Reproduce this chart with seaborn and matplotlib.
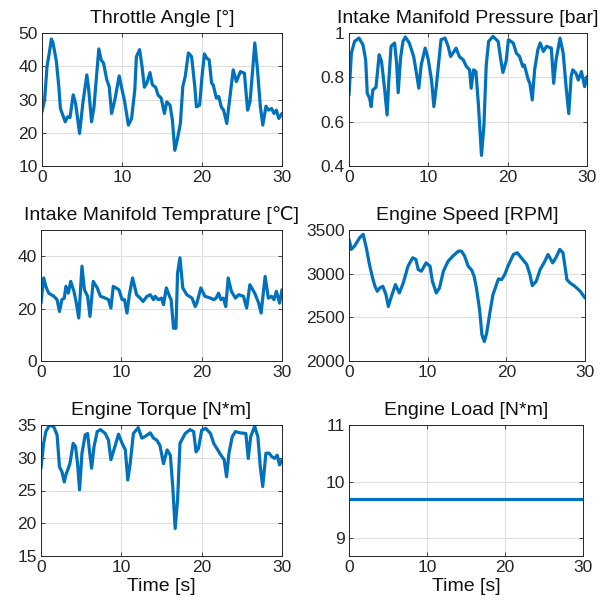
import matplotlib
matplotlib.use("Agg")
import matplotlib.pyplot as plt
import seaborn as sns

# ---- data ----
throttle_t = [0, 0.33, 0.63, 0.88, 1.17, 1.38, 1.8, 2.1, 2.3, 2.6, 2.9, 3.2, 3.5, 3.9, 4.2, 4.7,
              5.1, 5.6, 5.8, 6.2, 6.5, 7.1, 7.4, 7.7, 8.1, 8.4, 8.7, 9.1, 9.65, 10.1, 10.3, 10.8,
              11.2, 11.6, 11.8, 12.2, 12.5, 12.8, 13.1, 13.5, 13.8, 14.2, 14.5, 14.9, 15.3, 15.6,
              16.0, 16.3, 16.6, 16.9, 17.3, 17.6, 17.9, 18.3, 18.7, 19.1, 19.3, 19.7, 20.0, 20.3,
              20.6, 20.9, 21.2, 21.4, 21.8, 22.1, 22.4, 22.7, 23.1, 23.5, 23.9, 24.3, 24.8, 25.3,
              25.7, 26.0, 26.3, 26.6, 26.9, 27.3, 27.6, 28.0, 28.3, 28.7, 29.0, 29.3, 29.6, 30.0]
throttle = [26.3, 30, 40, 43.5, 48.2, 47, 41.4, 33.9, 27.3, 25.3, 23.3, 24.8, 24.6, 31.4, 28.8, 19.8,
            28.8, 37.4, 33.9, 23.3, 27.8, 45.2, 41.9, 40.9, 35.9, 33.9, 25.8, 29.8, 37.1, 31.9, 29.8, 22.3,
            24.3, 32.9, 42.9, 45, 40, 33.7, 34.9, 38.1, 34.4, 33.7, 31.4, 30.4, 25.8, 29.3,
            28.3, 23.8, 14.7, 17.8, 22.8, 33.9, 36.9, 44, 42.9, 33.9, 27.8, 28.3, 36.9, 43.7,
            42.4, 41.9, 34.9, 34.4, 30.4, 30.9, 27.8, 26.8, 22.8, 30.9, 38.9, 35.4, 38.4, 37.9,
            26.8, 29.3, 37.9, 47, 40, 27.8, 22.3, 28, 26.8, 27.3, 25.8, 26.8, 24.3, 25.8]

pressure_t = [0, 0.3, 0.7, 1.26, 1.76, 2.1, 2.3, 2.6, 2.8, 3.0, 3.4, 3.8, 4.1, 4.5, 4.8, 5.0, 5.3,
              5.75, 6.0, 6.2, 6.5, 6.8, 7.1, 7.6, 8.15, 8.5, 8.8, 9.1, 9.6, 10.0, 10.4, 10.7, 11.0,
              11.6, 12.1, 12.5, 12.8, 13.1, 13.5, 13.9, 14.4, 14.8, 15.2, 15.4, 15.7, 16.0, 16.3,
              16.7, 17.0, 17.3, 17.6, 18.15, 18.8, 19.1, 19.4, 19.8, 20.1, 20.7, 21.1, 21.5, 21.9,
              22.1, 22.6, 22.8, 23.1, 23.4, 23.8, 24.1, 24.5, 24.9, 25.5, 25.8, 26.1, 26.6, 27.0,
              27.4, 27.7, 28.0, 28.2, 28.6, 28.9, 29.3, 29.7, 30.0]
pressure = [0.72, 0.909, 0.962, 0.977, 0.947, 0.879, 0.728, 0.705, 0.668, 0.743, 0.755, 0.902, 0.872,
            0.743, 0.63, 0.773, 0.94, 0.955, 0.864, 0.731, 0.887, 0.962, 0.982, 0.955, 0.894, 0.819,
            0.751, 0.856, 0.932, 0.879, 0.788, 0.668, 0.758, 0.97, 0.977, 0.94, 0.894, 0.909, 0.932,
            0.894, 0.879, 0.849, 0.834, 0.751, 0.834, 0.826, 0.683, 0.448, 0.577, 0.856, 0.962, 0.985,
            0.962, 0.887, 0.822, 0.872, 0.97, 0.955, 0.909, 0.894, 0.849, 0.856, 0.788, 0.773, 0.698,
            0.834, 0.924, 0.955, 0.917, 0.94, 0.932, 0.773, 0.879, 0.977, 0.909, 0.743, 0.637, 0.803,
            0.834, 0.819, 0.788, 0.826, 0.758, 0.803]

temp_t = [0, 0.33, 0.6, 0.95, 1.6, 2.0, 2.3, 2.6, 2.9, 3.1, 3.4, 3.7, 4.1, 4.4, 4.7, 5.1, 5.4, 5.8,
          6.1, 6.5, 7.0, 7.4, 8.0, 8.4, 8.7, 9.0, 9.7, 10.1, 10.4, 10.7, 11.0, 11.4, 11.9, 12.35,
          12.7, 13.2, 13.6, 14.0, 14.2, 14.6, 15.0, 15.25, 15.6, 16.0, 16.2, 16.5, 16.8, 17.0, 17.3,
          17.65, 18.15, 18.8, 19.2, 19.4, 19.9, 20.4, 21.1, 21.5, 21.8, 22.1, 22.4, 22.7, 23.0, 23.3,
          23.7, 24.2, 24.6, 25.2, 25.6, 26.0, 26.6, 27.1, 27.4, 27.9, 28.3, 28.7, 29.0, 29.3, 29.7,
          30.0]
temp = [22.1, 31.7, 28.5, 25.9, 24.7, 23.4, 18.9, 23.4, 24.0, 28.5, 25.9, 30.4, 26.6, 22.1, 16.4,
        36.2, 27.2, 24.7, 17.0, 30.4, 27.9, 24.7, 24.0, 23.4, 20.2, 28.5, 27.2, 23.4, 23.4, 18.3,
        25.3, 31.7, 25.3, 24.0, 22.7, 24.7, 25.3, 23.4, 24.7, 23.4, 24.0, 21.5, 27.9, 24.7, 23.4,
        12.5, 12.5, 33.6, 39.4, 27.9, 25.3, 24.0, 20.8, 22.1, 27.9, 24.7, 24.0, 23.4, 24.0, 25.9,
        23.4, 24.0, 20.8, 31.7, 26.6, 24.0, 25.3, 24.7, 20.2, 29.1, 25.9, 22.1, 18.3, 32.3, 24.0,
        24.7, 23.4, 26.6, 22.1, 27.2]

speed_t = [0, 0.3, 0.7, 1.36, 1.8, 2.2, 2.6, 3.0, 3.3, 3.6, 3.9, 4.3, 4.7, 5.0, 5.4, 5.9, 6.4, 6.9,
           7.5, 8.1, 8.5, 8.8, 9.2, 9.8, 10.3, 10.6, 11.1, 11.5, 12.0, 12.6, 13.2, 13.9, 14.3, 14.7,
           15.15, 15.6, 15.9, 16.2, 16.6, 16.9, 17.2, 17.5, 17.9, 18.3, 19.0, 19.4, 19.8, 20.2,
           20.9, 21.4, 21.9, 22.6, 23.0, 23.3, 23.8, 24.3, 24.9, 25.3, 25.9, 26.3, 26.8, 27.2, 27.7,
           28.1, 28.7, 29.4, 30.0]
speed = [3393, 3278, 3316, 3412, 3450, 3297, 3105, 2951, 2856, 2798, 2836, 2856, 2760, 2625, 2741,
         2875, 2779, 2894, 3086, 3182, 3163, 3047, 3028, 3124, 3086, 2913, 2779, 2836, 3028, 3143,
         3201, 3258, 3258, 3201, 3086, 3040, 2971, 2836, 2587, 2300, 2223, 2319, 2549, 2760, 2940,
         2932, 2990, 3086, 3220, 3239, 3182, 3105, 2990, 2863, 2913, 3047, 3143, 3220, 3124, 3182,
         3278, 3239, 2932, 2894, 2856, 2798, 2721]

torque_t = [0, 0.33, 0.6, 1.08, 1.6, 2.0, 2.3, 2.6, 2.9, 3.1, 3.4, 3.6, 4.0, 4.3, 4.55, 4.8, 5.1,
            5.5, 5.8, 6.05, 6.3, 6.6, 7.0, 7.4, 8.0, 8.4, 8.7, 9.2, 9.65, 10.1, 10.5, 10.8, 11.1,
            11.5, 12.1, 12.55, 12.9, 13.6, 14.0, 14.4, 14.8, 15.25, 15.7, 16.1, 16.4, 16.7, 17.0,
            17.3, 17.95, 18.55, 19.0, 19.3, 19.6, 20.0, 20.5, 21.1, 21.5, 21.9, 22.4, 22.8, 23.1,
            23.4, 23.8, 24.2, 24.8, 25.5, 25.8, 26.1, 26.6, 27.0, 27.3, 27.6, 28.0, 28.4, 28.7,
            29.1, 29.4, 29.7, 30.0]
torque = [28.4, 32.2, 34, 35, 34.7, 33.5, 28.6, 27.9, 26.3, 27.4, 28.4, 29.1, 32.2, 31.7, 29.1, 25.1,
          30.7, 33.5, 33.7, 30.9, 28.4, 31.7, 34, 34.3, 33.7, 32.7, 29.7, 31.7, 33.6, 32.2, 31.2,
          26.6, 29.1, 33.7, 34.6, 33.0, 33.2, 33.8, 33.0, 32.7, 31.9, 29.1, 31.2, 30.4, 25.6, 19.2,
          23.5, 32.2, 33.7, 34.3, 34, 30.9, 31.4, 34.2, 34.5, 33.7, 32.2, 31.4, 30.4, 29.7, 27.1,
          30.7, 33.2, 34, 33.8, 33.7, 29.9, 33.2, 34.8, 33.2, 28.6, 25.6, 30.7, 30.7, 30.2, 29.9,
          30.4, 28.9, 29.7]

load_t = [0, 30]
load = [9.69, 9.69]

titles = ["Throttle Angle [°]", "Intake Manifold Pressure [bar]",
          "Intake Manifold Temprature [℃]", "Engine Speed [RPM]",
          "Engine Torque [N*m]", "Engine Load [N*m]"]
series = [(throttle_t, throttle), (pressure_t, pressure), (temp_t, temp),
          (speed_t, speed), (torque_t, torque), (load_t, load)]
ylims = [(10, 50), (0.4, 1), (0, 50), (2000, 3500), (15, 35), (8.69, 11)]
yticks = [[10, 20, 30, 40, 50], [0.4, 0.6, 0.8, 1.0], [0, 20, 40],
          [2000, 2500, 3000, 3500], [15, 20, 25, 30, 35], [9, 10, 11]]
yticklabels = [None, ["0.4", "0.6", "0.8", "1"], None, None, None, None]

# axes boxes in pixels: left, top, right, bottom
W, H = 612, 611
boxes = [(42, 33, 282, 166), (349, 33, 587, 166),
         (41, 230, 282, 361), (349, 230, 585, 361),
         (41, 425, 282, 556), (349, 425, 583, 556)]

sns.set_theme(style="ticks")
plt.rcParams["font.family"] = ["Liberation Sans", "DejaVu Sans"]
plt.rcParams["xtick.direction"] = "in"
plt.rcParams["ytick.direction"] = "in"

LINE = "#0072BD"
DARK = "#262626"

fig = plt.figure(figsize=(W / 100, H / 100), dpi=100)
for i, (box, (t, v)) in enumerate(zip(boxes, series)):
    l, tp, r, b = box
    ax = fig.add_axes([l / W, 1 - b / H, (r - l) / W, (b - tp) / H])
    sns.lineplot(x=t, y=v, ax=ax, color=LINE, linewidth=2.3,
                 solid_joinstyle="round", solid_capstyle="round")
    ax.set_xlim(0, 30)
    ax.set_ylim(*ylims[i])
    ax.set_xticks([0, 10, 20, 30])
    ax.set_yticks(yticks[i])
    if yticklabels[i] is not None:
        ax.set_yticklabels(yticklabels[i])
    ax.grid(True, color="#dfdfdf", linewidth=0.8)
    ax.set_axisbelow(True)
    ax.tick_params(axis="both", labelsize=12.5, colors=DARK, length=3, width=0.6,
                   top=True, right=True, pad=3)
    for s in ax.spines.values():
        s.set_visible(True)
        s.set_color(DARK)
        s.set_linewidth(0.7)
    ax.set_title(titles[i], fontsize=14, color="#111111", pad=7)
    if i >= 4:
        ax.set_xlabel("Time [s]", fontsize=14, color="#111111", labelpad=2)
    else:
        ax.set_xlabel("")

fig.savefig("out.png", dpi=100)
